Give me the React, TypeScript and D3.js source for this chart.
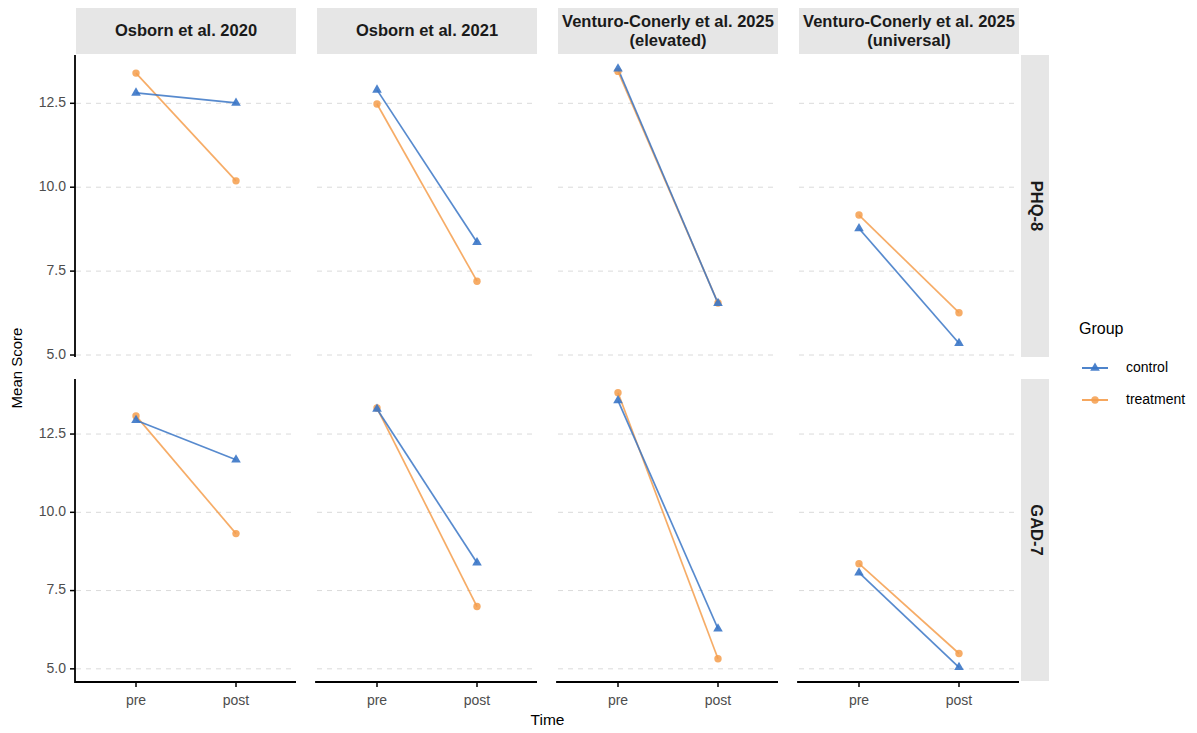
import React from "react";
import * as d3 from "d3";

// Studies (facet columns) and outcome measures (facet rows)
const studies = [
  "Osborn et al. 2020",
  "Osborn et al. 2021",
  "Venturo-Conerly et al. 2025\n(elevated)",
  "Venturo-Conerly et al. 2025\n(universal)",
];
const measures = ["PHQ-8", "GAD-7"];
const times = ["pre", "post"];
const groups = ["control", "treatment"];

// Mean scores [pre, post] per study, per measure
const phqControl = [
  [12.81, 12.51],
  [12.9, 8.36],
  [13.53, 6.54],
  [8.77, 5.35],
];
const phqTreatment = [
  [13.4, 10.19],
  [12.48, 7.2],
  [13.45, 6.55],
  [9.17, 6.26],
];
const gadControl = [
  [12.94, 11.68],
  [13.3, 8.39],
  [13.57, 6.28],
  [8.07, 5.05],
];
const gadTreatment = [
  [13.08, 9.32],
  [13.33, 6.99],
  [13.82, 5.32],
  [8.36, 5.49],
];
const yTicks = [5, 7.5, 10, 12.5];

const seriesByMeasure: Record<string, Record<string, number[][]>> = {
  "PHQ-8": { control: phqControl, treatment: phqTreatment },
  "GAD-7": { control: gadControl, treatment: gadTreatment },
};

const colors: Record<string, string> = {
  control: "#3A76C6",
  treatment: "#F59E4C",
};

const W = 1197;
const H = 733;
const panelLeft = [76, 317, 558, 799];
const panelW = 220;
const panelTop = [55, 379];
const panelH = 302;
const font = "'Liberation Sans', Arial, Helvetica, sans-serif";

function Marker({ group, x, y }: { group: string; x: number; y: number }) {
  if (group === "control") {
    const sym = d3.symbol().type(d3.symbolTriangle).size(40)();
    return (
      <path
        d={sym || ""}
        transform={`translate(${x},${y})`}
        fill={colors.control}
        fillOpacity={0.9}
      />
    );
  }
  return <circle cx={x} cy={y} r={3.7} fill={colors.treatment} fillOpacity={0.85} />;
}

export default function App() {
  // discrete x axis: categories sit at 1..n inside [0.4, n + 0.6]
  const x = d3
    .scaleLinear()
    .domain([0.4, times.length + 0.6])
    .range([0, panelW]);
  const xPos = (t: string) => x(times.indexOf(t) + 1);

  // free y scale per row with 5% expansion
  const yScales = measures.map((m, ri) => {
    const all: number[] = [];
    groups.forEach((g) => seriesByMeasure[m][g].forEach((v) => all.push(...v)));
    const [lo, hi] = d3.extent(all) as [number, number];
    const pad = (hi - lo) * 0.05;
    return d3
      .scaleLinear()
      .domain([lo - pad, hi + pad])
      .range([panelTop[ri] + panelH, panelTop[ri]]);
  });

  const line = d3
    .line<[number, number]>()
    .x((d) => d[0])
    .y((d) => d[1]);

  const drawOrder = ["treatment", "control"];

  return (
    <svg
      width={W}
      height={H}
      style={{ position: "absolute", left: 0, top: 0, background: "#fff" }}
      fontFamily={font}
    >
      <rect width={W} height={H} fill="#fff" />

      {/* column strips */}
      {studies.map((s, ci) => {
        const lines = s.split("\n");
        const cx = panelLeft[ci] + panelW / 2;
        return (
          <g key={s}>
            <rect x={panelLeft[ci]} y={8} width={panelW} height={46} fill="#E6E6E6" />
            {lines.map((l, li) => (
              <text
                key={li}
                x={cx}
                y={lines.length === 1 ? 31.5 : 22.5 + li * 19.5}
                textAnchor="middle"
                dominantBaseline="middle"
                fontSize={16.5}
                fontWeight="bold"
                fill="#1A1A1A"
              >
                {l}
              </text>
            ))}
          </g>
        );
      })}

      {/* row strips */}
      {measures.map((m, ri) => {
        const cy = panelTop[ri] + panelH / 2;
        return (
          <g key={m}>
            <rect x={1021} y={panelTop[ri]} width={28} height={panelH} fill="#E6E6E6" />
            <text
              transform={`translate(1035,${cy}) rotate(90)`}
              textAnchor="middle"
              dominantBaseline="middle"
              fontSize={16.5}
              fontWeight="bold"
              fill="#1A1A1A"
            >
              {m}
            </text>
          </g>
        );
      })}

      {/* panels */}
      {measures.map((m, ri) => {
        const y = yScales[ri];
        return studies.map((s, ci) => {
          const x0 = panelLeft[ci];
          return (
            <g key={`${m}-${s}`}>
              {yTicks.map((t) => (
                <line
                  key={t}
                  x1={x0}
                  x2={x0 + panelW}
                  y1={y(t)}
                  y2={y(t)}
                  stroke="#DADADA"
                  strokeWidth={1}
                  strokeDasharray="5,5"
                />
              ))}
              {drawOrder.map((g) => {
                const vals = seriesByMeasure[m][g][ci];
                const pts: [number, number][] = times.map((t, ti) => [x0 + xPos(t), y(vals[ti])]);
                return (
                  <path
                    key={g}
                    d={line(pts) || ""}
                    fill="none"
                    stroke={colors[g]}
                    strokeOpacity={0.85}
                    strokeWidth={1.7}
                  />
                );
              })}
              {drawOrder.map((g) => {
                const vals = seriesByMeasure[m][g][ci];
                return times.map((t, ti) => (
                  <Marker key={`${g}-${t}`} group={g} x={x0 + xPos(t)} y={y(vals[ti])} />
                ));
              })}
            </g>
          );
        });
      })}

      {/* left axes (first column) */}
      {measures.map((m, ri) => {
        const y = yScales[ri];
        const ax = panelLeft[0] - 1;
        return (
          <g key={`ax-${m}`}>
            <line x1={ax} x2={ax} y1={panelTop[ri]} y2={panelTop[ri] + panelH} stroke="#000" strokeWidth={1.8} />
            {yTicks.map((t) => (
              <g key={t}>
                <line x1={ax - 5} x2={ax} y1={y(t)} y2={y(t)} stroke="#000" strokeWidth={1.5} />
                <text
                  x={ax - 9}
                  y={y(t)}
                  textAnchor="end"
                  dominantBaseline="middle"
                  fontSize={14}
                  fill="#4D4D4D"
                >
                  {d3.format(".1f")(t)}
                </text>
              </g>
            ))}
          </g>
        );
      })}

      {/* bottom axes (bottom row) */}
      {studies.map((s, ci) => {
        const ay = panelTop[1] + panelH + 1;
        const x0 = panelLeft[ci];
        return (
          <g key={`bx-${s}`}>
            <line x1={x0 - 1.9} x2={x0 + panelW} y1={ay} y2={ay} stroke="#000" strokeWidth={1.8} />
            {times.map((t) => (
              <g key={t}>
                <line x1={x0 + xPos(t)} x2={x0 + xPos(t)} y1={ay} y2={ay + 5} stroke="#000" strokeWidth={1.5} />
                <text
                  x={x0 + xPos(t)}
                  y={ay + 19.5}
                  textAnchor="middle"
                  dominantBaseline="middle"
                  fontSize={14}
                  fill="#4D4D4D"
                >
                  {t}
                </text>
              </g>
            ))}
          </g>
        );
      })}

      {/* axis titles */}
      <text
        x={(panelLeft[0] + panelLeft[3] + panelW) / 2}
        y={721}
        textAnchor="middle"
        dominantBaseline="middle"
        fontSize={15.5}
        fill="#000"
      >
        Time
      </text>
      <text
        transform={`translate(18,${(panelTop[0] + panelTop[1] + panelH) / 2}) rotate(-90)`}
        textAnchor="middle"
        dominantBaseline="middle"
        fontSize={15}
        fill="#000"
      >
        Mean Score
      </text>

      {/* legend */}
      <g>
        <text x={1079} y={330} dominantBaseline="middle" fontSize={16} fill="#000">
          Group
        </text>
        {groups.map((g, i) => {
          const ly = 368 + i * 32;
          return (
            <g key={g}>
              <line x1={1082} x2={1108} y1={ly} y2={ly} stroke={colors[g]} strokeWidth={1.8} />
              <Marker group={g} x={1095} y={ly} />
              <text x={1126} y={ly} dominantBaseline="middle" fontSize={14} fill="#000">
                {g}
              </text>
            </g>
          );
        })}
      </g>
    </svg>
  );
}
